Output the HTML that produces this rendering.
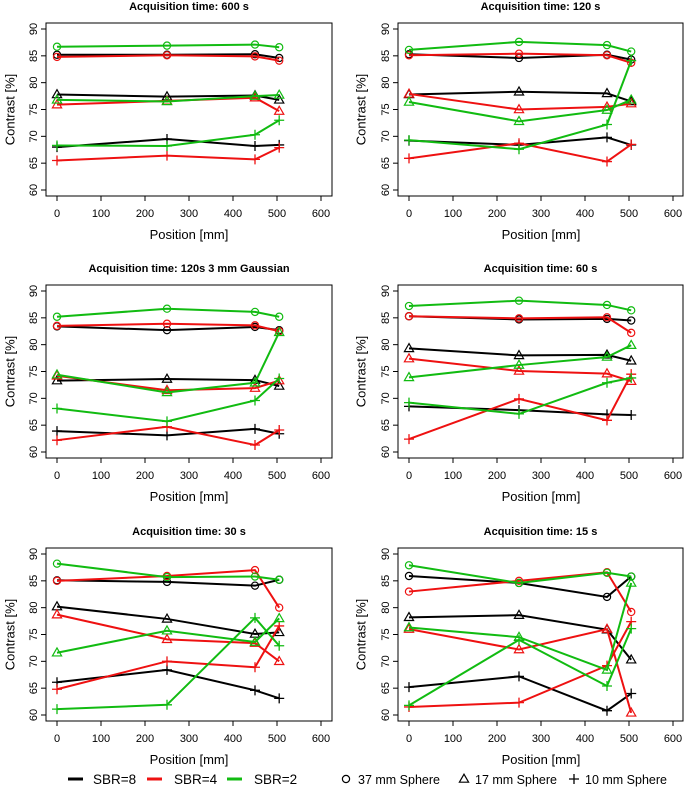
<!DOCTYPE html>
<html><head><meta charset="utf-8"><style>
body{margin:0;background:#fff;}
svg{display:block;font-family:"Liberation Sans",sans-serif;}
</style></head><body>
<svg id="chart" width="685" height="796" viewBox="0 0 685 796"></svg>
<script>
const positions=[0,250,450,505];
const titles=["Acquisition time:  600 s","Acquisition time:  120 s","Acquisition time: 120s 3 mm Gaussian","Acquisition time:  60 s","Acquisition time:  30 s","Acquisition time:  15 s"];
const xTicks=[0,100,200,300,400,500,600];
const yTicks=[60,65,70,75,80,85,90];
const sbrNames=["SBR=8","SBR=4","SBR=2"];
const sphereNames=["37 mm Sphere","17 mm Sphere","10 mm Sphere"];
// [panel][sbr][sphere] -> values at positions
const p600=[[[85.2,85.2,85.3,84.6],[77.8,77.4,77.6,76.8],[68,69.5,68.2,68.4]],
 [[84.8,85.1,84.9,84.1],[75.9,76.6,77.2,74.7],[65.5,66.4,65.7,67.9]],
 [[86.7,86.9,87.1,86.6],[76.8,76.5,77.5,77.7],[68.3,68.2,70.3,73.0]]];
const p120=[[[85.3,84.6,85.2,84.3],[77.8,78.3,78.0,76.5],[69.2,68.4,69.8,68.4]],
 [[85.1,85.4,85.1,83.7],[77.9,75.0,75.5,76.1],[65.9,68.7,65.3,68.5]],
 [[86.1,87.6,87.0,85.8],[76.4,72.8,74.9,76.8],[69.3,67.6,72.2,84.1]]];
const pGauss=[[[83.4,82.7,83.3,82.7],[73.3,73.6,73.4,72.3],[63.9,63.1,64.3,63.4]],
 [[83.5,83.9,83.6,82.5],[74.2,71.5,71.9,73.3],[62.2,64.7,61.3,64.1]],
 [[85.2,86.7,86.1,85.2],[74.4,71.1,72.9,82.3],[68.1,65.7,69.6,73.7]]];
const p60=[[[85.3,84.7,84.8,84.5],[79.3,78.0,78.1,77.0],[68.5,67.8,67.0,66.9]],
 [[85.3,84.9,85.1,82.2],[77.4,75.1,74.6,73.2],[62.4,69.9,65.9,74.5]],
 [[87.2,88.2,87.4,86.4],[73.9,76.2,77.7,79.9],[69.2,67.1,72.9,73.8]]];
const p30=[[[85.1,84.8,84.1,85.2],[80.2,77.9,75.1,75.4],[66.1,68.4,64.6,63.1]],
 [[85.0,85.9,87.0,80.0],[78.7,74.1,73.4,70.0],[64.8,70.0,68.9,76.6]],
 [[88.2,85.7,85.8,85.2],[71.6,75.7,73.6,78.0],[61.1,61.9,78.1,72.9]]];
const p15=[[[85.9,84.6,82.0,85.8],[78.2,78.6,75.9,70.3],[65.2,67.2,60.8,64.0]],
 [[83.0,85.0,86.6,79.2],[76.0,72.2,76.0,60.4],[61.5,62.3,69.2,77.4]],
 [[87.9,84.6,86.5,85.8],[76.3,74.5,68.4,84.6],[61.8,74.0,65.4,76.1]]];
const panels=[p600,p120,pGauss,p60,p30,p15];
const colors=["#000000","#ee1111","#11bb11"];

const svg=document.getElementById('chart');
const NS="http://www.w3.org/2000/svg";
function mk(tag,attrs,parent){const e=document.createElementNS(NS,tag);for(const k in attrs)e.setAttribute(k,attrs[k]);(parent||svg).appendChild(e);return e;}
function marker(g,type,x,y,c){
  if(type===0) return mk('circle',{cx:x,cy:y,r:3.6,fill:'none',stroke:c,'stroke-width':1.2},g);
  if(type===1) return mk('polygon',{points:`${x},${y-4.8} ${x-4.6},${y+3.2} ${x+4.6},${y+3.2}`,fill:'none',stroke:c,'stroke-width':1.2},g);
  return mk('path',{d:`M${x-5},${y}H${x+5}M${x},${y-5}V${y+5}`,fill:'none',stroke:c,'stroke-width':1.3},g);
}
const cols=[{bx0:46,bx1:332,x0:57,x600:321,ylab:10},{bx0:398,bx1:683,x0:409,x600:673,ylab:361}];
const rows=[{top:0},{top:262},{top:525}];
panels.forEach((pd,pi)=>{
  const c=cols[pi%2], r=rows[Math.floor(pi/2)];
  const g=mk('g',{});
  
  
  const t=r.top;
  const by0=t+23, by1=t+196;
  const xs=v=>c.x0+(v/600)*(c.x600-c.x0);
  const ys=v=>t+190-(v-60)/30*161;
  const tt=mk('text',{x:(c.bx0+c.bx1)/2,y:t+10,'text-anchor':'middle','font-size':11,'font-weight':'bold'},g);
  tt.textContent=titles[pi];
  
  
  const box=mk('rect',{x:c.bx0,y:by0,width:c.bx1-c.bx0,height:by1-by0,fill:'none',stroke:'#000','stroke-width':1},g);
  
  
  xTicks.forEach(v=>{
    mk('line',{x1:xs(v),x2:xs(v),y1:by1,y2:by1+5,stroke:'#000'},g);
    const tx=mk('text',{x:xs(v),y:t+217,'text-anchor':'middle','font-size':11},g);
    tx.textContent=v;
    
    
  });
  yTicks.forEach(v=>{
    mk('line',{x1:c.bx0-5,x2:c.bx0,y1:ys(v),y2:ys(v),stroke:'#000'},g);
    const ty=mk('text',{x:c.bx0-12,y:ys(v),'text-anchor':'middle','font-size':11,transform:`rotate(-90 ${c.bx0-12} ${ys(v)})`,'dominant-baseline':'central'},g);
    ty.textContent=v;
    
    
  });
  const xl=mk('text',{x:(c.x0+c.x600)/2,y:t+239,'text-anchor':'middle','font-size':13},g);
  xl.textContent='Position [mm]';
  
  
  const yc=(by0+by1)/2;
  const yl=mk('text',{x:c.ylab,y:yc,'text-anchor':'middle','font-size':13,transform:`rotate(-90 ${c.ylab} ${yc})`,'dominant-baseline':'central'},g);
  yl.textContent='Contrast [%]';
  
  
  pd.forEach((sbr,si)=>{
    sbr.forEach((vals,ki)=>{
      const pts=vals.map((v,i)=>xs(positions[i])+','+ys(v)).join(' ');
      const pl=mk('polyline',{points:pts,fill:'none',stroke:colors[si],'stroke-width':2},g);
      
      
      vals.forEach((v,i)=>{
        const m=marker(g,ki,xs(positions[i]),ys(v),colors[si]);
        
        
      });
    });
  });
});
// legend
const lg=mk('g',{});


const ly=779;
const lineX=[68,147,227], textX=[93,174,254];
sbrNames.forEach((n,i)=>{
  mk('line',{x1:lineX[i],x2:lineX[i]+15,y1:ly,y2:ly,stroke:colors[i],'stroke-width':3},lg);
  const tx=mk('text',{x:textX[i],y:ly+5,'font-size':13.5},lg);
  tx.textContent=n;
  
  
});
const mX=[346,464,574], mtX=[358,475,585];
sphereNames.forEach((n,i)=>{
  marker(lg,i,mX[i],ly,'#000');
  const tx=mk('text',{x:mtX[i],y:ly+5,'font-size':12.5},lg);
  tx.textContent=n;
  
  
});
</script>
</body></html>
